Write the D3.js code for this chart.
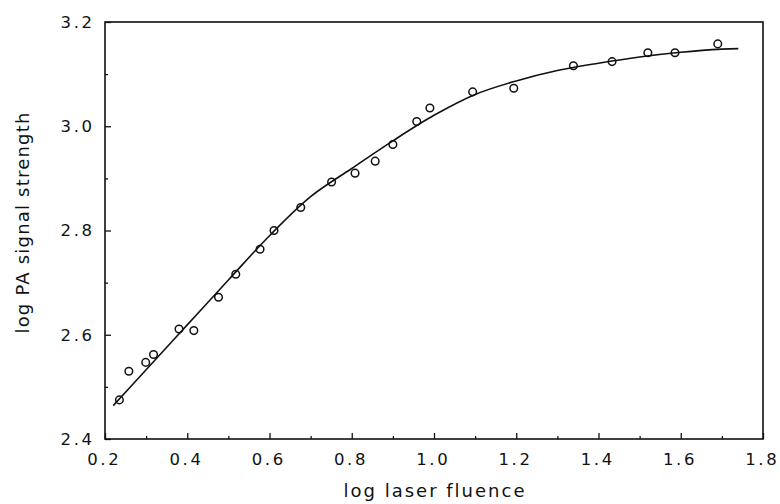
<!DOCTYPE html>
<html><head><meta charset="utf-8">
<script src="https://cdn.jsdelivr.net/npm/d3@7"></script>
<style>
html,body{margin:0;padding:0;background:#fff;}
svg text{font-family:"DejaVu Sans",sans-serif;fill:#111;}
</style></head>
<body>
<svg id="chart" width="780" height="504"></svg>
<script>
// measured points
const pointX = [0.235,0.258,0.299,0.318,0.380,0.416,0.476,0.518,0.577,0.611,0.676,0.751,0.808,0.857,0.900,0.958,0.990,1.094,1.194,1.339,1.433,1.520,1.586,1.690];
const pointY = [2.475,2.530,2.547,2.562,2.611,2.608,2.672,2.716,2.764,2.800,2.844,2.893,2.910,2.933,2.965,3.009,3.035,3.066,3.073,3.116,3.124,3.141,3.141,3.158];
// fitted curve
const fitX = [0.22,0.3,0.4,0.5,0.6,0.7,0.8,0.9,1.0,1.1,1.2,1.3,1.4,1.5,1.6,1.7,1.74];
const fitY = [2.464,2.533,2.619,2.705,2.790,2.865,2.919,2.972,3.021,3.061,3.087,3.107,3.121,3.133,3.142,3.148,3.149];
const xTicks = [0.2,0.4,0.6,0.8,1.0,1.2,1.4,1.6,1.8];
const xMinor = [0.3,0.5,0.7,0.9,1.1,1.3,1.5,1.7];
const yTicks = [2.4,2.6,2.8,3.0,3.2];
const yMinor = [2.5,2.7,2.9,3.1];
const xTitle = "log laser fluence";
const yTitle = "log PA signal strength";

const L=105, R=763, T=22, B=439;
const svg = d3.select("#chart");
const x = d3.scaleLinear().domain([0.2,1.8]).range([L,R]);
const y = d3.scaleLinear().domain([2.4,3.2]).range([B,T]);

// frame
svg.append("rect").attr("x",L).attr("y",T).attr("width",R-L).attr("height",B-T)
  .attr("fill","none").attr("stroke","#111").attr("stroke-width",1.6);

// x axis ticks (inward)
const gx = svg.append("g").attr("transform",`translate(0,${B})`);
gx.call(d3.axisTop(x).tickValues(xTicks).tickSize(6).tickFormat(""));
gx.call(g=>g.select(".domain").remove());
const gxm = svg.append("g").attr("transform",`translate(0,${B})`);
gxm.call(d3.axisTop(x).tickValues(xMinor).tickSize(3).tickFormat(""));
gxm.call(g=>g.select(".domain").remove());

// y axis ticks (inward)
const gy = svg.append("g").attr("transform",`translate(${L},0)`);
gy.call(d3.axisRight(y).tickValues(yTicks).tickSize(6).tickFormat(""));
gy.call(g=>g.select(".domain").remove());
const gym = svg.append("g").attr("transform",`translate(${L},0)`);
gym.call(d3.axisRight(y).tickValues(yMinor).tickSize(3).tickFormat(""));
gym.call(g=>g.select(".domain").remove());
svg.selectAll(".tick line").attr("stroke","#111").attr("stroke-width",1.3);

const ls = 2.6;
// x labels
svg.append("g").selectAll("text").data(xTicks).join("text")
  .attr("x",d=>x(d)-2+ls/2).attr("y",B+26).attr("text-anchor","middle")
  .attr("font-size",16.5).attr("letter-spacing",ls)
  .text(d=>d.toFixed(1));

// y labels
svg.append("g").selectAll("text").data(yTicks).join("text")
  .attr("x",L-13+ls).attr("y",d=>y(d)).attr("dy","0.36em").attr("text-anchor","end")
  .attr("font-size",16.5).attr("letter-spacing",ls)
  .text(d=>d.toFixed(1));

// titles
svg.append("text").attr("x",(L+R)/2+1).attr("y",497).attr("text-anchor","middle")
  .attr("font-size",18).attr("letter-spacing",2).text(xTitle);
svg.append("text").attr("transform",`translate(29,${(T+B)/2-8}) rotate(-90)`)
  .attr("text-anchor","middle").attr("font-size",18).attr("letter-spacing",1.2).text(yTitle);

// fit curve
const fit = fitX.map((v,i)=>[v,fitY[i]]);
svg.append("path").datum(fit)
  .attr("d",d3.line().x(d=>x(d[0])).y(d=>y(d[1])).curve(d3.curveCatmullRom))
  .attr("fill","none").attr("stroke","#111").attr("stroke-width",1.6);

// points
const pts = pointX.map((v,i)=>[v,pointY[i]]);
svg.append("g").selectAll("circle").data(pts).join("circle")
  .attr("cx",d=>x(d[0])).attr("cy",d=>y(d[1])).attr("r",3.8)
  .attr("fill","none").attr("stroke","#111").attr("stroke-width",1.5);
</script>
</body></html>
